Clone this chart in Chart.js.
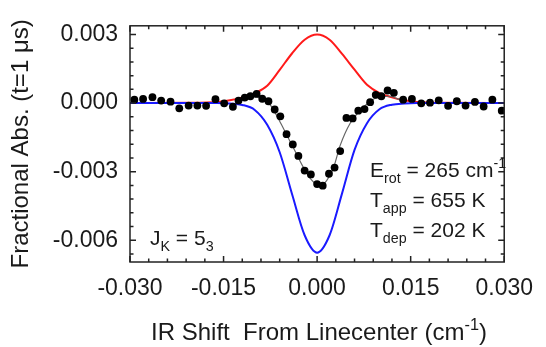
<!DOCTYPE html>
<html>
<head>
<meta charset="utf-8">
<script src="https://cdn.jsdelivr.net/npm/chart.js@4.4.0/dist/chart.umd.min.js"></script>
<style>
  html, body { margin: 0; padding: 0; background: #fff; }
</style>
</head>
<body>
<canvas id="myChart" width="546" height="347"></canvas>
<script>
const ctx = document.getElementById('myChart').getContext('2d');
const FONT = '"Liberation Sans", Arial, sans-serif';

// measured points
const dotX = [-0.0293, -0.0279, -0.0264, -0.0250, -0.0235, -0.0221, -0.0206, -0.0192, -0.0178, -0.0163,
    -0.0149, -0.0135, -0.0126, -0.0116, -0.0107, -0.0097, -0.0088, -0.0078, -0.0068, -0.0059,
    -0.0049, -0.0039, -0.0030, -0.0020, -0.0010, 0.0000, 0.0009, 0.0019, 0.0028, 0.0037,
    0.0047, 0.0057, 0.0066, 0.0076, 0.0085, 0.0094, 0.0103, 0.0113, 0.0123, 0.0138,
    0.0152, 0.0167, 0.0181, 0.0195, 0.0210, 0.0224, 0.0238, 0.0253, 0.0267, 0.0281, 0.0296];
const dotY = [0.00015, 0.00018, 0.00026, 0.00011, 0.00006, -0.00023, -0.00011, -0.00011, -0.00012, 0.00017,
    -0.00001, -0.00016, 0.00011, 0.00024, 0.00030, 0.00040, 0.00019, 0.00008, -0.00028, -0.00058,
    -0.00136, -0.00181, -0.00231, -0.00295, -0.00312, -0.00354, -0.00361, -0.00309, -0.00282, -0.00210,
    -0.00065, -0.00067, -0.00033, -0.00026, 0.00004, 0.00036, 0.00030, 0.00055, 0.00045, 0.00015,
    0.00018, -0.00001, 0.00002, 0.00012, -0.00012, 0.00008, -0.00011, 0.00005, -0.00015, 0.00015, -0.00033];

// gray fit through the points
const fitX = [-0.0130, -0.0115, -0.0100, -0.0085, -0.0074, -0.0061, -0.0048, -0.0035, -0.0022, -0.0009,
    0.0004, 0.0015, 0.0026, 0.0037, 0.0053, 0.0074, 0.0094, 0.0115, 0.0135];
const fitY = [0.00003, 0.00020, 0.00028, 0.00018, -0.00012, -0.00074, -0.00143, -0.00212, -0.00281, -0.00336,
    -0.00362, -0.00340, -0.00285, -0.00185, -0.00088, -0.00019, 0.00022, 0.00030, 0.00012];

// appearance (red) and depletion (blue) curves
const curveX = [-0.030, -0.020, -0.016, -0.014, -0.012, -0.010, -0.008, -0.006, -0.004, -0.002, 0.000,
    0.002, 0.004, 0.006, 0.008, 0.010, 0.012, 0.014, 0.016, 0.020, 0.030];
const redY = [0, 0.00001, 0.00005, 0.00012, 0.00025, 0.00043, 0.00076, 0.00145, 0.00218, 0.00277, 0.00300,
    0.00277, 0.00215, 0.00146, 0.00080, 0.00044, 0.00025, 0.00012, 0.00005, 0.00001, 0];
const blueY = [0, 0, 0, -0.00002, -0.00008, -0.00030, -0.00095, -0.00215, -0.00400, -0.00578, -0.00654,
    -0.00578, -0.00395, -0.00205, -0.00088, -0.00027, -0.00007, -0.00002, 0, 0, 0];

const xTicks = [-0.030, -0.015, 0.000, 0.015, 0.030];
const xTickLabels = ['-0.030', '-0.015', '0.000', '0.015', '0.030'];
const yTicks = [-0.006, -0.003, 0.000, 0.003];
const yTickLabels = ['-0.006', '-0.003', '0.000', '0.003'];

const pts = (xs, ys) => xs.map((v, i) => ({x: v, y: ys[i]}));

function richText(c, x, y, parts, size) {
    for (const [t, kind] of parts) {
        const s = kind ? size * 0.68 : size;
        const dy = kind === 'sub' ? size * 0.3 : kind === 'sup' ? -size * 0.42 : 0;
        c.font = s + 'px ' + FONT;
        c.fillText(t, x, y + dy);
        x += c.measureText(t).width;
    }
    return x;
}
function richWidth(c, parts, size) {
    let w = 0;
    for (const [t, kind] of parts) {
        c.font = (kind ? size * 0.68 : size) + 'px ' + FONT;
        w += c.measureText(t).width;
    }
    return w;
}

// box with inward major/minor ticks, x title and labels
const decorations = {
    id: 'decorations',
    afterDatasetsDraw(chart) {
        const c = chart.ctx;
        const a = chart.chartArea;
        const x = chart.scales.x, y = chart.scales.y;
        c.save();
        c.strokeStyle = '#222';
        c.lineWidth = 1.5;
        c.strokeRect(a.left, a.top, a.right - a.left, a.bottom - a.top);
        c.beginPath();
        for (let i = 0; i <= 20; i++) {
            const px = x.getPixelForValue(-0.03 + i * 0.003);
            const len = i % 5 === 0 ? 6 : 3.5;
            c.moveTo(px, a.bottom); c.lineTo(px, a.bottom - len);
            c.moveTo(px, a.top); c.lineTo(px, a.top + len);
        }
        for (let i = -11; i <= 5; i++) {
            const py = y.getPixelForValue(i * 0.0006);
            const len = i % 5 === 0 ? 6 : 3.5;
            c.moveTo(a.left, py); c.lineTo(a.left + len, py);
            c.moveTo(a.right, py); c.lineTo(a.right - len, py);
        }
        c.stroke();

        c.fillStyle = '#1a1a1a';
        c.textBaseline = 'alphabetic';
        c.textAlign = 'left';
        // x axis title
        const title = [['IR Shift  From Linecenter (cm', ''], ['-1', 'sup'], [')', '']];
        const tw = richWidth(c, title, 24);
        richText(c, 319 - tw / 2, 340, title, 24);

        richText(c, 370, 177, [['E', ''], ['rot', 'sub'], [' = 265 cm', ''], ['-1', 'sup']], 21);
        richText(c, 370, 207, [['T', ''], ['app', 'sub'], [' = 655 K', '']], 21);
        richText(c, 370, 237, [['T', ''], ['dep', 'sub'], [' = 202 K', '']], 21);
        richText(c, 150, 245, [['J', ''], ['K', 'sub'], [' = 5', ''], ['3', 'sub']], 21);
        c.restore();
    }
};

const config = {
    type: 'scatter',
    data: {
        datasets: [
            {
                data: pts(dotX, dotY),
                backgroundColor: '#000',
                borderWidth: 0,
                pointRadius: 3.9,
                showLine: false
            },
            {
                data: pts(fitX, fitY),
                borderColor: '#666',
                borderWidth: 1.2,
                pointRadius: 0,
                showLine: true,
                cubicInterpolationMode: 'monotone'
            },
            {
                data: pts(curveX, blueY),
                borderColor: '#1a1aff',
                borderWidth: 2,
                pointRadius: 0,
                showLine: true,
                cubicInterpolationMode: 'monotone'
            },
            {
                data: pts(curveX, redY),
                borderColor: '#ff1a1a',
                borderWidth: 2,
                pointRadius: 0,
                showLine: true,
                cubicInterpolationMode: 'monotone'
            },
        ],
    },
    options: {
        responsive: false,
        animation: false,
        layout: { padding: { top: 12, right: 31, left: 0, bottom: 0 } },
        plugins: { legend: { display: false }, tooltip: { enabled: false } },
        scales: {
            x: {
                type: 'linear',
                min: -0.030,
                max: 0.030,
                afterBuildTicks: (s) => { s.ticks = xTicks.map(v => ({value: v})); },
                afterFit: (s) => { s.height = 85; },
                grid: { display: false, drawTicks: false },
                border: { display: false },
                ticks: {
                    padding: 13,
                    color: '#1a1a1a',
                    font: { family: FONT, size: 23 },
                    maxRotation: 0,
                    callback: (v, i) => xTickLabels[i]
                },
                title: { display: false }
            },
            y: {
                type: 'linear',
                min: -0.00695,
                max: 0.00338,
                afterBuildTicks: (s) => { s.ticks = yTicks.map(v => ({value: v})); },
                afterFit: (s) => { s.width = 130; },
                grid: { display: false, drawTicks: false },
                border: { display: false },
                ticks: {
                    padding: 12,
                    color: '#1a1a1a',
                    font: { family: FONT, size: 23 },
                    callback: (v, i) => yTickLabels[i]
                },
                title: {
                    display: true,
                    text: 'Fractional Abs. (t=1 μs)',
                    color: '#1a1a1a',
                    font: { family: FONT, size: 24 },
                    padding: { top: 7, bottom: 0 }
                }
            }
        }
    },
    plugins: [decorations]
};

const myChart = new Chart(ctx, config);
</script>
</body>
</html>
